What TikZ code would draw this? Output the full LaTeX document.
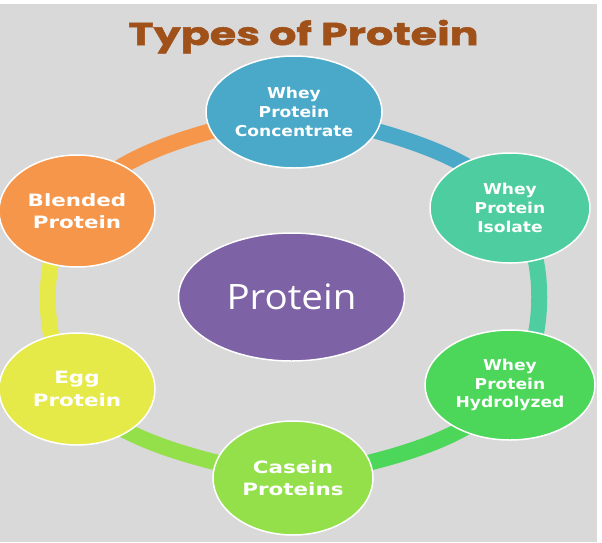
\documentclass[tikz,border=0pt]{standalone}
\usepackage{fontspec}
\usetikzlibrary{shapes.geometric}
\newfontfamily\nodefontA[FakeStretch=1.14]{DejaVu Sans}
\newfontfamily\nodefontB[FakeStretch=1.26]{DejaVu Sans}
\newfontfamily\centerfont[FakeStretch=1.1]{Open Sans}
\newfontfamily\titlefont[FakeStretch=1.36,FakeBold=1.6]{Poppins}
\definecolor{bgc}{RGB}{217,217,217}
\definecolor{concc}{RGB}{74,168,200}
\definecolor{isoc}{RGB}{78,206,160}
\definecolor{hydc}{RGB}{76,214,90}
\definecolor{casc}{RGB}{147,224,74}
\definecolor{eggc}{RGB}{230,234,72}
\definecolor{blendc}{RGB}{245,150,74}
\definecolor{mainc}{RGB}{126,98,166}
\definecolor{titlec}{RGB}{160,80,25}
\pgfdeclarelayer{bglayer}
\pgfdeclarelayer{ringlayer}
\pgfsetlayers{bglayer,ringlayer,main}
\begin{document}
\begin{tikzpicture}[x=1pt,y=-1pt,
  bub/.style={ellipse, draw=white, line width=1.5pt, inner sep=0pt, text=white, align=center},
  small/.style={font=\nodefontA\bfseries\fontsize{15}{18.7}\selectfont},
  big/.style={font=\nodefontB\bfseries\fontsize{17}{22.5}\selectfont},
  ring/.style={line width=16pt}]
\useasboundingbox (0,0) rectangle (602,542);
\begin{pgfonlayer}{bglayer}
\fill[white] (0,0) rectangle (602,542);
\fill[bgc] (0,4) rectangle (597,542);
\end{pgfonlayer}
\node[anchor=base, text=titlec, font=\titlefont\bfseries\fontsize{31.5}{36}\selectfont] (title) at (303.5,45) {Types of Protein};
\node[bub, fill=mainc, minimum width=226pt, minimum height=128pt, font=\centerfont\fontsize{35}{40}\selectfont] (main) at (291.5,297) {Protein};
\node[bub, small, fill=concc, minimum width=176pt, minimum height=112pt] (conc) at (294,112) {Whey\\Protein\\Concentrate};
\node[bub, small, fill=isoc, minimum width=160pt, minimum height=110pt] (iso) at (510,208) {Whey\\Protein\\Isolate};
\node[bub, small, fill=hydc, minimum width=170pt, minimum height=110pt] (hyd) at (510,385) {Whey\\Protein\\Hydrolyzed};
\node[bub, big, fill=casc, minimum width=160pt, minimum height=114pt] (cas) at (293,478) {Casein\\Proteins};
\node[bub, big, fill=eggc, minimum width=156pt, minimum height=112pt] (egg) at (77,389) {Egg\\Protein};
\node[bub, big, fill=blendc, minimum width=156pt, minimum height=112pt] (blend) at (77,211) {Blended\\Protein};
\begin{pgfonlayer}{ringlayer}
\draw[ring, blendc] (blend.center) .. controls (100,160) and (190,132) .. (conc.center);
\draw[ring, concc] (conc.center) .. controls (397,132) and (487,160) .. (iso.center);
\draw[ring, isoc] (iso.center) .. controls (549,240) and (549,355) .. (hyd.center);
\draw[ring, hydc] (hyd.center) .. controls (487,433) and (397,461) .. (cas.center);
\draw[ring, casc] (cas.center) .. controls (190,461) and (100,433) .. (egg.center);
\draw[ring, eggc] (egg.center) .. controls (38,355) and (38,240) .. (blend.center);
\end{pgfonlayer}
\end{tikzpicture}
\end{document}
